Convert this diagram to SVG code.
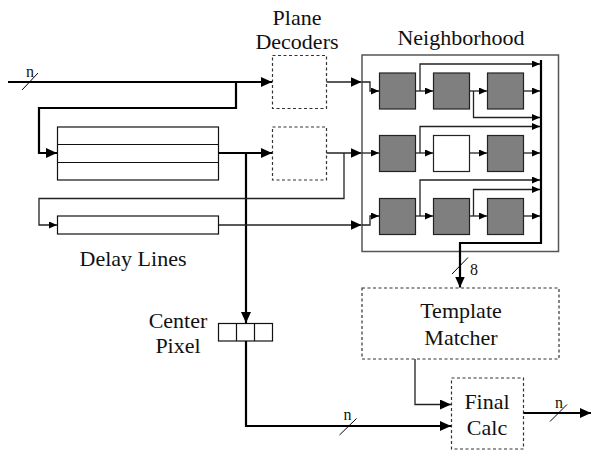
<svg xmlns="http://www.w3.org/2000/svg" width="592" height="454" viewBox="0 0 592 454">
  <style>
    .lbl { font-family: "Liberation Serif", "Times New Roman", serif; font-size: 22px; fill: #111; text-anchor: middle; }
    .sm { font-family: "Liberation Serif", "Times New Roman", serif; font-size: 16px; fill: #111; text-anchor: middle; }
    .dash { fill: #fff; stroke: #333; stroke-width: 1.2; stroke-dasharray: 3 2.5; }
    .cell { fill: #7f7f7f; stroke: #222; stroke-width: 1.2; }
    .white { fill: #fff; stroke: #222; stroke-width: 1.2; }
    .delay { fill: #fff; stroke: #111; stroke-width: 1.2; }
    .thick { fill: none; stroke: #000; stroke-width: 2.2; }
    .thin { fill: none; stroke: #222; stroke-width: 1.3; }
    .tick { fill: none; stroke: #000; stroke-width: 1; }
  </style>
  <defs>
    <marker id="big" markerUnits="userSpaceOnUse" markerWidth="11" markerHeight="10" refX="11" refY="5" orient="auto">
      <path d="M0,0 L11,5 L0,10 z" fill="#000"/>
    </marker>
    <marker id="small" markerUnits="userSpaceOnUse" markerWidth="8" markerHeight="7" refX="8" refY="3.5" orient="auto">
      <path d="M0,0 L8,3.5 L0,7 z" fill="#000"/>
    </marker>
  </defs>

  <rect width="592" height="454" fill="#fff"/>

  <!-- labels -->
  <text class="lbl" x="297" y="25">Plane</text>
  <text class="lbl" x="297" y="49">Decoders</text>
  <text class="lbl" x="461" y="45">Neighborhood</text>
  <text class="lbl" x="133" y="266">Delay Lines</text>

  <!-- neighborhood frame -->
  <g id="neighborhood">
    <rect x="362" y="55" width="196.5" height="196.5" fill="none" stroke="#555" stroke-width="1.5"/>
    <rect class="cell" x="379.5" y="73" width="36" height="36"/>
    <rect class="cell" x="433.5" y="73" width="36" height="36"/>
    <rect class="cell" x="487.5" y="73" width="36" height="36"/>
    <rect class="cell" x="379.5" y="135.5" width="36" height="36"/>
    <rect class="white" x="433.5" y="135.5" width="36" height="36"/>
    <rect class="cell" x="487.5" y="135.5" width="36" height="36"/>
    <rect class="cell" x="379.5" y="198.5" width="36" height="36"/>
    <rect class="cell" x="433.5" y="198.5" width="36" height="36"/>
    <rect class="cell" x="487.5" y="198.5" width="36" height="36"/>
  </g>

  <g id="plane-decoder-1"><rect class="dash" x="272.5" y="55.5" width="54" height="53"/></g>
  <g id="plane-decoder-2"><rect class="dash" x="272.5" y="127" width="54" height="53"/></g>

  <g id="delay-line-1">
    <rect class="delay" x="57.5" y="127" width="161" height="53"/>
    <line class="delay" x1="57.5" y1="144.5" x2="218.5" y2="144.5"/>
    <line class="delay" x1="57.5" y1="162.5" x2="218.5" y2="162.5"/>
  </g>
  <g id="delay-line-2"><rect class="delay" x="57.5" y="216" width="161" height="18"/></g>

  <g id="center-pixel">
    <rect class="delay" x="218.5" y="323.5" width="54" height="17.5"/>
    <line class="delay" x1="236.5" y1="323.5" x2="236.5" y2="341"/>
    <line class="delay" x1="254.5" y1="323.5" x2="254.5" y2="341"/>
    <text class="lbl" x="178" y="328">Center</text>
    <text class="lbl" x="178" y="353">Pixel</text>
  </g>

  <g id="template-matcher">
    <rect class="dash" x="362" y="288" width="197" height="71"/>
    <text class="lbl" x="461" y="318">Template</text>
    <text class="lbl" x="461" y="345">Matcher</text>
  </g>

  <g id="final-calc">
    <rect class="dash" x="451.5" y="378" width="72" height="71"/>
    <text class="lbl" x="487" y="409">Final</text>
    <text class="lbl" x="487" y="435">Calc</text>
  </g>

  <g id="connectors">
    <!-- pixel input -->
    <path class="thick" d="M8,82 H272" marker-end="url(#big)"/>
    <path class="thick" d="M236,82 V108 H39 V153 H57" marker-end="url(#big)"/>
    <!-- first delay line out -->
    <path class="thick" d="M218.5,153 H272" marker-end="url(#big)"/>
    <path class="thick" d="M246,153 V323" marker-end="url(#big)"/>
    <!-- feedback into second delay line -->
    <path class="thin" d="M344,153 V198.5 H39 V225 H57" marker-end="url(#small)"/>
    <path class="thin" d="M218.5,225 H361.5" marker-end="url(#big)"/>
    <!-- decoder outputs -->
    <path class="thin" d="M326.5,82 H361.5" marker-end="url(#big)"/>
    <path class="thin" d="M326.5,153 H361.5" marker-end="url(#big)"/>

    <!-- row inputs -->
    <path class="thin" d="M362,82 H370 V91 H379" marker-end="url(#small)"/>
    <path class="thin" d="M362,153 H379" marker-end="url(#small)"/>
    <path class="thin" d="M362,225 H370 V216 H379" marker-end="url(#small)"/>

    <!-- row 1 -->
    <path class="thin" d="M415.5,91 H433" marker-end="url(#small)"/>
    <path class="thin" d="M469.5,91 H487" marker-end="url(#small)"/>
    <path class="thin" d="M523.5,91 H540" marker-end="url(#small)"/>
    <path class="thin" d="M420,91 V64 H540" marker-end="url(#small)"/>
    <path class="thin" d="M473.5,91 V117.5 H540" marker-end="url(#small)"/>
    <!-- row 2 -->
    <path class="thin" d="M415.5,153 H433" marker-end="url(#small)"/>
    <path class="thin" d="M469.5,153 H487" marker-end="url(#small)"/>
    <path class="thin" d="M523.5,153 H540" marker-end="url(#small)"/>
    <path class="thin" d="M420,153 V126.5 H540" marker-end="url(#small)"/>
    <!-- row 3 -->
    <path class="thin" d="M415.5,216 H433" marker-end="url(#small)"/>
    <path class="thin" d="M469.5,216 H487" marker-end="url(#small)"/>
    <path class="thin" d="M523.5,216 H540" marker-end="url(#small)"/>
    <path class="thin" d="M420,216 V180 H540" marker-end="url(#small)"/>
    <path class="thin" d="M473.5,216 V189.5 H540" marker-end="url(#small)"/>

    <!-- neighbor bus to template matcher -->
    <path class="thick" d="M541,60 V243 H460 V287.5" marker-end="url(#big)"/>

    <!-- template matcher to final calc -->
    <path class="thin" d="M415,359 V404.5 H451" marker-end="url(#big)"/>
    <!-- center pixel to final calc -->
    <path class="thick" d="M246,341 V426 H451" marker-end="url(#big)"/>
    <!-- final output -->
    <path class="thick" d="M523.5,413 H591" marker-end="url(#big)"/>

    <!-- bus width ticks -->
    <line class="tick" x1="22" y1="90" x2="38" y2="73"/>
    <text class="sm" x="30" y="77">n</text>
    <line class="tick" x1="452" y1="274" x2="468" y2="257.5"/>
    <text class="sm" x="474" y="275">8</text>
    <line class="tick" x1="339.5" y1="435" x2="356.5" y2="418.5"/>
    <text class="sm" x="347.5" y="420">n</text>
    <line class="tick" x1="550" y1="421.5" x2="567" y2="404.5"/>
    <text class="sm" x="559" y="408">n</text>
  </g>
</svg>
